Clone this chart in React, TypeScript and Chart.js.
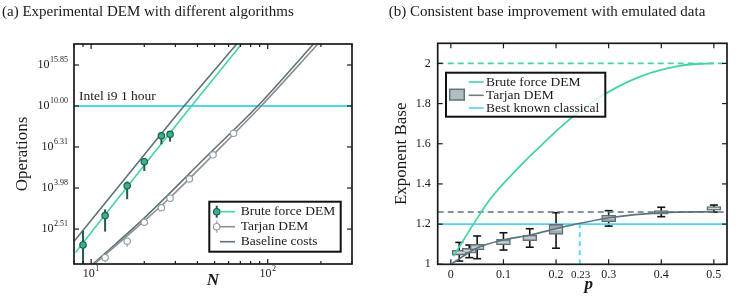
import React, { useEffect, useRef } from "react";
import { Chart, registerables } from "chart.js";
Chart.register(...registerables);

const FONT = "'Liberation Serif', 'DejaVu Serif', serif";
const TEAL = "#46d3a4";
const SLATE = "#5c737d";
const GRAY = "#8e8e8e";
const CYAN = "#50d5f4";
const DARK_TEAL = "#1f5c50";
const MARK_TEAL = "#37b28c";
const HOLLOW_EDGE = "#8e9ea6";
const INK = "#1a1a1a";

// ---------- Panel (a): operation counts stored as log10(operations) ----------
const bruteN = [9, 12, 16, 20, 25, 28];
const bruteLog = [2.1, 2.92, 4.08, 5.35, 7.16, 7.28];
const bruteLogLo = [1.5, 2.44, 3.51, 4.82, 6.5, 6.7];
const bruteLogHi = [2.46, 3.13, 4.28, 5.56, 7.28, 7.36];

const tarjanN = [12, 16, 20, 25, 28, 36, 49, 64];
const tarjanLog = [1.82, 2.19, 2.71, 3.19, 3.55, 4.41, 5.78, 7.36];
const tarjanLogLo = [1.73, 2.06, 2.68, 3.16, 3.52, 4.38, 5.74, 7.32];
const tarjanLogHi = [1.84, 2.21, 2.73, 3.21, 3.57, 4.43, 5.8, 7.38];

const bruteFitN = [8.16, 21.1, 37.0, 70.8];
const bruteFitLog = [1.93, 5.45, 10.0, 19.95];
const bruteBaseN = [8.05, 19.95, 33.6, 66.4];
const bruteBaseLog = [2.2, 5.77, 10.0, 19.95];
const tarjanFitN = [10.4, 20.0, 28.2, 49.0, 91.8, 191.2];
const tarjanFitLog = [1.69, 2.75, 3.6, 5.77, 10.0, 19.95];
const tarjanBaseN = [10.2, 19.2, 45.9, 87.8, 180.7];
const tarjanBaseLog = [1.69, 2.75, 5.77, 10.0, 19.95];

const intelLog = 10; // Intel i9 1 hour budget, 10^10 operations
const intelLabel = "Intel i9 1 hour";
const nMin = 8;
const nMax = 300;
const yTickLabels = ["2.51", "3.98", "6.31", "10.00", "15.85"];
const xMajorN = [10, 100];
const xMajorSup = ["1", "2"];
const xMinorN = [8, 9, 20, 30, 40, 50, 60, 70, 80, 90, 200, 300];

// ---------- Panel (b): exponent base vs p ----------
const bruteP = [0.005, 0.043, 0.075, 0.132, 0.165, 0.214, 0.252, 0.3025, 0.366, 0.429, 0.467, 0.5];
const bruteBase = [1.04, 1.2, 1.325, 1.49, 1.575, 1.695, 1.775, 1.862, 1.94, 1.985, 1.997, 2.0];
const tarjanP = [0.003, 0.049, 0.1, 0.151, 0.2076, 0.2455, 0.3025, 0.404, 0.499];
const tarjanBase = [1.005, 1.08, 1.121, 1.146, 1.182, 1.204, 1.232, 1.257, 1.262];

const boxP = [0.016, 0.035, 0.05, 0.1, 0.15, 0.2, 0.3, 0.4, 0.5];
const boxQ1 = [1.046, 1.055, 1.071, 1.096, 1.117, 1.149, 1.212, 1.249, 1.27];
const boxQ3 = [1.071, 1.08, 1.1, 1.124, 1.146, 1.199, 1.245, 1.267, 1.287];
const boxMed = [1.058, 1.067, 1.085, 1.11, 1.131, 1.172, 1.228, 1.258, 1.278];
const boxLo = [1.016, 1.033, 1.028, 1.071, 1.085, 1.08, 1.19, 1.237, 1.26];
const boxHi = [1.109, 1.096, 1.141, 1.157, 1.177, 1.257, 1.267, 1.284, 1.295];

const bruteLimit = 2.0;
const tarjanLimit = 1.26;
const classicalBase = 1.2;
const crossP = 0.245;
const crossLabel = "0.23";
const pMin = -0.025;
const pMax = 0.525;
const pTickLabels = ["0", "0.1", "0.2", "0.3", "0.4", "0.5"];
const baseTickLabels = ["1", "1.2", "1.4", "1.6", "1.8", "2"];

// ---------- helpers ----------
const lg = (v: number) => Math.log10(v);
const pts = (xs: number[], ys: number[], f: (v: number) => number = (v) => v) =>
  xs.map((x, i) => ({ x, y: f(ys[i]) }));

function line(ctx: CanvasRenderingContext2D, x1: number, y1: number, x2: number, y2: number) {
  ctx.beginPath();
  ctx.moveTo(x1, y1);
  ctx.lineTo(x2, y2);
  ctx.stroke();
}

function drawFrame(chart: any, xt: { v: number; len: number }[], yt: { v: number; len: number }[]) {
  const { ctx, chartArea: ca, scales } = chart;
  const x = scales.x;
  const y = scales.y;
  ctx.save();
  ctx.strokeStyle = INK;
  ctx.lineWidth = 1.2;
  for (const t of xt) {
    const px = x.getPixelForValue(t.v);
    line(ctx, px, ca.bottom, px, ca.bottom - t.len);
    line(ctx, px, ca.top, px, ca.top + t.len);
  }
  for (const t of yt) {
    const py = y.getPixelForValue(t.v);
    line(ctx, ca.left, py, ca.left + t.len, py);
    line(ctx, ca.right, py, ca.right - t.len, py);
  }
  ctx.lineWidth = 1.7;
  ctx.strokeRect(ca.left, ca.top, ca.right - ca.left, ca.bottom - ca.top);
  ctx.restore();
}

function powLabel(ctx: CanvasRenderingContext2D, base: string, sup: string, x: number, y: number, align: "right" | "center") {
  ctx.save();
  ctx.fillStyle = INK;
  ctx.font = `12px ${FONT}`;
  const wb = ctx.measureText(base).width;
  ctx.font = `8px ${FONT}`;
  const ws = ctx.measureText(sup).width;
  const w = wb + ws + 0.5;
  const x0 = align === "right" ? x - w : x - w / 2;
  ctx.textAlign = "left";
  ctx.textBaseline = "middle";
  ctx.font = `12px ${FONT}`;
  ctx.fillText(base, x0, y);
  ctx.font = `8px ${FONT}`;
  ctx.fillText(sup, x0 + wb + 0.5, y - 5.5);
  ctx.restore();
}

function legendText(ctx: CanvasRenderingContext2D, text: string, x: number, y: number) {
  ctx.fillStyle = INK;
  ctx.font = `13.5px ${FONT}`;
  ctx.textAlign = "left";
  ctx.textBaseline = "middle";
  ctx.fillText(text, x, y);
}

// ---------- panel (a) plugin ----------
const panelAPlugin = {
  id: "panelA",
  afterDatasetDraw(chart: any, args: any) {
    if (args.index !== 2) return;
    const { ctx, chartArea: ca, scales } = chart;
    const x = scales.x;
    const y = scales.y;
    ctx.save();
    ctx.beginPath();
    ctx.rect(ca.left, ca.top, ca.right - ca.left, ca.bottom - ca.top);
    ctx.clip();
    ctx.strokeStyle = "#a3b0b5";
    ctx.lineWidth = 1.5;
    tarjanN.forEach((n, i) => {
      const px = x.getPixelForValue(n);
      line(ctx, px, y.getPixelForValue(lg(tarjanLogLo[i])), px, y.getPixelForValue(lg(tarjanLogHi[i])));
    });
    ctx.strokeStyle = DARK_TEAL;
    ctx.lineWidth = 2;
    bruteN.forEach((n, i) => {
      const px = x.getPixelForValue(n);
      line(ctx, px, y.getPixelForValue(lg(bruteLogLo[i])), px, y.getPixelForValue(lg(bruteLogHi[i])));
    });
    ctx.restore();
  },
  afterDraw(chart: any) {
    const { ctx, chartArea: ca, scales } = chart;
    const x = scales.x;
    const y = scales.y;
    drawFrame(
      chart,
      [...xMajorN.map((v) => ({ v, len: 5 })), ...xMinorN.map((v) => ({ v, len: 3 }))],
      yTickLabels.map((s) => ({ v: lg(parseFloat(s)), len: 5 }))
    );
    yTickLabels.forEach((s) => powLabel(ctx, "10", s, ca.left - 6, y.getPixelForValue(lg(parseFloat(s))), "right"));
    xMajorN.forEach((n, i) => powLabel(ctx, "10", xMajorSup[i], x.getPixelForValue(n), ca.bottom + 10, "center"));

    ctx.save();
    legendText(ctx, intelLabel, ca.left + 5, y.getPixelForValue(lg(intelLog)) - 9.5);

    // legend
    const lx = 209.3, ly = 201.7, lw = 131.4, lh = 50;
    ctx.fillStyle = "rgba(255,255,255,0.85)";
    ctx.fillRect(lx, ly, lw, lh);
    ctx.strokeStyle = "#111";
    ctx.lineWidth = 2;
    ctx.strokeRect(lx, ly, lw, lh);
    const rows = [211.7, 226.7, 241.7];
    const mx = 216.7;
    // row 0
    ctx.strokeStyle = DARK_TEAL;
    ctx.lineWidth = 2;
    line(ctx, mx, rows[0] - 6, mx, rows[0] + 6);
    ctx.beginPath();
    ctx.arc(mx, rows[0], 3.2, 0, Math.PI * 2);
    ctx.fillStyle = MARK_TEAL;
    ctx.fill();
    ctx.lineWidth = 1.2;
    ctx.stroke();
    ctx.strokeStyle = TEAL;
    ctx.lineWidth = 1.6;
    line(ctx, 220, rows[0], 235, rows[0]);
    legendText(ctx, "Brute force DEM", 240.7, rows[0]);
    // row 1
    ctx.strokeStyle = "#a3b0b5";
    ctx.lineWidth = 1.5;
    line(ctx, mx, rows[1] - 6, mx, rows[1] + 6);
    ctx.beginPath();
    ctx.arc(mx, rows[1], 3.2, 0, Math.PI * 2);
    ctx.fillStyle = "#fff";
    ctx.fill();
    ctx.strokeStyle = HOLLOW_EDGE;
    ctx.lineWidth = 1.2;
    ctx.stroke();
    ctx.strokeStyle = GRAY;
    ctx.lineWidth = 1.6;
    line(ctx, 220, rows[1], 235, rows[1]);
    legendText(ctx, "Tarjan DEM", 240.7, rows[1]);
    // row 2
    ctx.strokeStyle = SLATE;
    ctx.lineWidth = 1.6;
    line(ctx, 220, rows[2], 235, rows[2]);
    legendText(ctx, "Baseline costs", 240.7, rows[2]);
    ctx.restore();
  },
};

// ---------- panel (b) plugin ----------
const BOX_INDEX = 2;
const panelBPlugin = {
  id: "panelB",
  beforeDatasetsDraw(chart: any) {
    const { ctx, scales } = chart;
    const x = scales.x;
    const y = scales.y;
    ctx.save();
    ctx.strokeStyle = CYAN;
    ctx.lineWidth = 1.8;
    ctx.setLineDash([5, 4]);
    const cx = x.getPixelForValue(crossP);
    line(ctx, cx, y.getPixelForValue(1.0), cx, y.getPixelForValue(classicalBase));
    ctx.setLineDash([]);
    ctx.strokeStyle = "#151515";
    ctx.lineWidth = 1.6;
    boxP.forEach((p, i) => {
      const px = x.getPixelForValue(p);
      const yl = y.getPixelForValue(boxLo[i]);
      const yh = y.getPixelForValue(boxHi[i]);
      line(ctx, px, yl, px, yh);
      line(ctx, px - 4, yl, px + 4, yl);
      line(ctx, px - 4, yh, px + 4, yh);
    });
    ctx.restore();
  },
  afterDatasetDraw(chart: any, args: any) {
    if (args.index !== BOX_INDEX) return;
    const { ctx, scales } = chart;
    const x = scales.x;
    const y = scales.y;
    ctx.save();
    ctx.strokeStyle = "#d4d9db";
    ctx.lineWidth = 1.3;
    boxP.forEach((p, i) => {
      const px = x.getPixelForValue(p);
      const py = y.getPixelForValue(boxMed[i]);
      line(ctx, px - 5.5, py, px + 5.5, py);
    });
    ctx.restore();
  },
  afterDraw(chart: any) {
    const { ctx, chartArea: ca, scales } = chart;
    const x = scales.x;
    drawFrame(
      chart,
      pTickLabels.map((s) => ({ v: parseFloat(s), len: 5 })),
      baseTickLabels.map((s) => ({ v: parseFloat(s), len: 5 }))
    );
    ctx.save();
    ctx.fillStyle = INK;
    ctx.font = `11px ${FONT}`;
    ctx.textAlign = "center";
    ctx.textBaseline = "middle";
    ctx.fillText(crossLabel, x.getPixelForValue(crossP) + 1, ca.bottom + 11);

    // axis title p
    ctx.font = `italic bold 17px ${FONT}`;
    ctx.fillText("p", 211.7, 284.5);

    // legend (local coordinates of right canvas)
    const lx = 69, ly = 72.7, lw = 159.3, lh = 44;
    ctx.fillStyle = "rgba(255,255,255,0.8)";
    ctx.fillRect(lx, ly, lw, lh);
    ctx.strokeStyle = "#111";
    ctx.lineWidth = 2;
    ctx.strokeRect(lx, ly, lw, lh);
    const rows = [82, 95.3, 108];
    const l0 = 91.7, l1 = 106.7, tx = 109;
    ctx.lineWidth = 1.6;
    ctx.strokeStyle = TEAL;
    line(ctx, l0, rows[0], l1, rows[0]);
    legendText(ctx, "Brute force DEM", tx, rows[0]);
    ctx.fillStyle = "#b3bcbf";
    ctx.fillRect(72.7, 89.3, 14.6, 10.7);
    ctx.strokeStyle = SLATE;
    ctx.lineWidth = 1.5;
    ctx.strokeRect(72.7, 89.3, 14.6, 10.7);
    ctx.strokeStyle = "#6f7b80";
    ctx.lineWidth = 1.6;
    line(ctx, l0, rows[1], l1, rows[1]);
    legendText(ctx, "Tarjan DEM", tx, rows[1]);
    ctx.strokeStyle = CYAN;
    line(ctx, l0, rows[2], l1, rows[2]);
    legendText(ctx, "Best known classical", tx, rows[2]);
    ctx.restore();
  },
};

function configA(): any {
  const hidden = { display: false, drawTicks: false };
  return {
    type: "line",
    data: {
      datasets: [
        {
          data: pts(bruteN, bruteLog, lg),
          showLine: false,
          pointRadius: 3.2,
          pointBackgroundColor: MARK_TEAL,
          pointBorderColor: DARK_TEAL,
          pointBorderWidth: 1.2,
        },
        {
          data: pts(tarjanN, tarjanLog, lg),
          showLine: false,
          pointRadius: 3.2,
          pointBackgroundColor: "#ffffff",
          pointBorderColor: HOLLOW_EDGE,
          pointBorderWidth: 1.2,
        },
        { data: pts(bruteFitN, bruteFitLog, lg), borderColor: TEAL, borderWidth: 1.6, pointRadius: 0, cubicInterpolationMode: "monotone" },
        { data: pts(tarjanFitN, tarjanFitLog, lg), borderColor: GRAY, borderWidth: 1.6, pointRadius: 0, cubicInterpolationMode: "monotone" },
        { data: pts(bruteBaseN, bruteBaseLog, lg), borderColor: SLATE, borderWidth: 1.6, pointRadius: 0, cubicInterpolationMode: "monotone" },
        { data: pts(tarjanBaseN, tarjanBaseLog, lg), borderColor: SLATE, borderWidth: 1.6, pointRadius: 0, cubicInterpolationMode: "monotone" },
        { data: pts([nMin, nMax], [intelLog, intelLog], lg), borderColor: CYAN, borderWidth: 1.8, pointRadius: 0 },
      ],
    },
    options: {
      animation: false,
      responsive: false,
      devicePixelRatio: 1,
      layout: { padding: { left: 2, right: 25, top: 0, bottom: 0 } },
      plugins: {
        legend: { display: false },
        tooltip: { enabled: false },
        title: {
          display: true,
          text: "(a) Experimental DEM with different algorithms",
          align: "start",
          color: INK,
          font: { family: FONT, size: 15, weight: "normal" },
          padding: { top: 3, bottom: 23 },
        },
      },
      scales: {
        x: {
          type: "logarithmic",
          min: nMin,
          max: nMax,
          ticks: { display: false },
          grid: hidden,
          border: { display: false },
          title: {
            display: true,
            text: "N",
            color: INK,
            font: { family: FONT, size: 17, style: "italic", weight: "bold" },
            padding: { top: 0, bottom: 13 },
          },
          afterFit: (s: any) => {
            s.height = 40;
          },
        },
        y: {
          type: "linear",
          min: 0.2293,
          max: 1.3024,
          ticks: { display: false },
          grid: hidden,
          border: { display: false },
          title: {
            display: true,
            text: "Operations",
            color: INK,
            font: { family: FONT, size: 17, weight: "normal" },
            padding: { top: 10.3, bottom: 0 },
          },
          afterFit: (s: any) => {
            s.width = 72;
          },
        },
      },
    },
    plugins: [panelAPlugin],
  };
}

function configB(): any {
  const hidden = { display: false, drawTicks: false };
  return {
    type: "line",
    data: {
      datasets: [
        { data: pts(bruteP, bruteBase), borderColor: TEAL, borderWidth: 1.8, pointRadius: 0, cubicInterpolationMode: "monotone" },
        { data: pts(tarjanP, tarjanBase), borderColor: SLATE, borderWidth: 1.6, pointRadius: 0, cubicInterpolationMode: "monotone" },
        {
          type: "bar",
          data: boxP.map((p, i) => ({ x: p, y: [boxQ1[i], boxQ3[i]] })),
          backgroundColor: "#a0abb0",
          borderColor: "#5f6f76",
          borderWidth: 1.4,
          borderSkipped: false,
          barThickness: 14,
          grouped: false,
        },
        { data: pts([pMin, pMax], [bruteLimit, bruteLimit]), borderColor: TEAL, borderWidth: 1.6, borderDash: [6, 4], pointRadius: 0 },
        { data: pts([pMin, pMax], [tarjanLimit, tarjanLimit]), borderColor: SLATE, borderWidth: 1.6, borderDash: [6, 4], pointRadius: 0 },
        { data: pts([pMin, pMax], [classicalBase, classicalBase]), borderColor: CYAN, borderWidth: 1.8, pointRadius: 0 },
      ],
    },
    options: {
      animation: false,
      responsive: false,
      devicePixelRatio: 1,
      layout: { padding: { left: 11.7, right: 27, top: 0, bottom: 0 } },
      plugins: {
        legend: { display: false },
        tooltip: { enabled: false },
        title: {
          display: true,
          text: "(b) Consistent base improvement with emulated data",
          align: "start",
          color: INK,
          font: { family: FONT, size: 15, weight: "normal" },
          padding: { top: 3, bottom: 22.3 },
        },
      },
      scales: {
        x: {
          type: "linear",
          min: pMin,
          max: pMax,
          offset: false,
          grid: { ...hidden, offset: false },
          border: { display: false },
          afterBuildTicks: (s: any) => {
            s.ticks = pTickLabels.map((t) => ({ value: parseFloat(t) }));
          },
          ticks: {
            autoSkip: false,
            maxRotation: 0,
            padding: 3.5,
            color: INK,
            font: { family: FONT, size: 12 },
            callback: (_v: any, i: number) => pTickLabels[i],
          },
          title: { display: false },
          afterFit: (s: any) => {
            s.height = 39.7;
          },
        },
        y: {
          type: "linear",
          min: 1,
          max: 2.1,
          grid: hidden,
          border: { display: false },
          afterBuildTicks: (s: any) => {
            s.ticks = baseTickLabels.map((t) => ({ value: parseFloat(t) }));
          },
          ticks: {
            autoSkip: false,
            padding: 7,
            color: INK,
            font: { family: FONT, size: 12 },
            callback: (_v: any, i: number) => baseTickLabels[i],
          },
          title: {
            display: true,
            text: "Exponent Base",
            color: INK,
            font: { family: FONT, size: 17, weight: "normal" },
            padding: { top: 3.1, bottom: 0 },
          },
          afterFit: (s: any) => {
            s.width = 49;
          },
        },
      },
    },
    plugins: [panelBPlugin],
  };
}

export default function App() {
  const refA = useRef<HTMLCanvasElement>(null);
  const refB = useRef<HTMLCanvasElement>(null);
  useEffect(() => {
    const a = new Chart(refA.current as HTMLCanvasElement, configA());
    const b = new Chart(refB.current as HTMLCanvasElement, configB());
    return () => {
      a.destroy();
      b.destroy();
    };
  }, []);
  return (
    <div style={{ position: "absolute", left: 0, top: 0, width: 754, height: 304, background: "#fff" }}>
      <canvas ref={refA} width={377} height={304} style={{ position: "absolute", left: 0, top: 0, width: 377, height: 304 }} />
      <canvas ref={refB} width={377} height={304} style={{ position: "absolute", left: 377, top: 0, width: 377, height: 304 }} />
    </div>
  );
}
